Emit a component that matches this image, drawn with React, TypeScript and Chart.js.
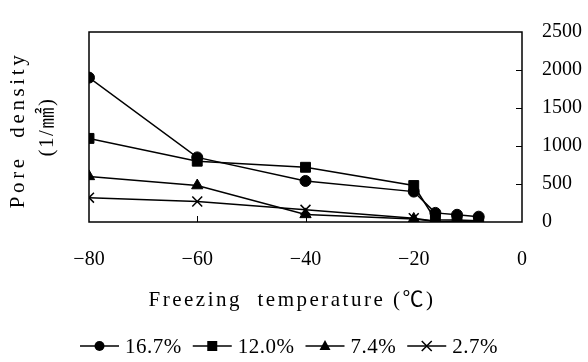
import React, { useEffect, useRef } from "react";
import { Chart, registerables } from "chart.js";

Chart.register(...registerables);

const temperatures = [-80, -60, -40, -20, -16, -12, -8];
const seriesLabels = ["16.7%", "12.0%", "7.4%", "2.7%"];
const series167 = [1900, 850, 540, 400, 120, 95, 70];
const series120 = [1100, 800, 720, 480, 30, 25, 15];
const series74 = [600, 480, 100, 40, 10, 8, 5];
const series27 = [320, 270, 160, 50, 10, 5, 5];
const xTicks = [-80, -60, -40, -20, 0];
const yTicks = [0, 500, 1000, 1500, 2000, 2500];
const xTitle = "Freezing  temperature (℃)";
const yTitleLine1 = "Pore  density";
const yTitleLine2 = "(1/㎟)";

const pointStyles = ["circle", "rect", "triangle", "crossRot"];
const pointRadii = [5.5, 7, 6.5, 7];

const SERIF = '"Liberation Serif", "Noto Sans CJK SC", serif';

function drawMarker(ctx: CanvasRenderingContext2D, style: string, x: number, y: number) {
  ctx.beginPath();
  if (style === "circle") {
    ctx.arc(x, y, 5, 0, Math.PI * 2);
    ctx.fill();
  } else if (style === "rect") {
    ctx.rect(x - 5, y - 5, 10, 10);
    ctx.fill();
  } else if (style === "triangle") {
    ctx.moveTo(x, y - 6);
    ctx.lineTo(x + 5.5, y + 4);
    ctx.lineTo(x - 5.5, y + 4);
    ctx.closePath();
    ctx.fill();
  } else {
    ctx.moveTo(x - 5, y - 5);
    ctx.lineTo(x + 5, y + 5);
    ctx.moveTo(x + 5, y - 5);
    ctx.lineTo(x - 5, y + 5);
    ctx.stroke();
  }
}

const decorPlugin = {
  id: "decor",
  afterDraw(chart: any) {
    const { ctx, chartArea: a, scales } = chart;
    ctx.save();
    ctx.strokeStyle = "#000";
    ctx.fillStyle = "#000";
    ctx.lineWidth = 1.5;
    ctx.strokeRect(a.left, a.top, a.right - a.left, a.bottom - a.top);
    ctx.lineWidth = 1;
    for (const v of xTicks) {
      const px = Math.round(scales.x.getPixelForValue(v)) + 0.5;
      if (px > a.left + 2 && px < a.right - 2) {
        ctx.beginPath();
        ctx.moveTo(px, a.bottom);
        ctx.lineTo(px, a.bottom - 6);
        ctx.stroke();
      }
    }
    for (const v of yTicks) {
      const py = Math.round(scales.y.getPixelForValue(v)) + 0.5;
      if (py > a.top + 2 && py < a.bottom - 2) {
        ctx.beginPath();
        ctx.moveTo(a.right, py);
        ctx.lineTo(a.right - 6, py);
        ctx.stroke();
      }
    }

    // axis titles
    ctx.textAlign = "center";
    ctx.textBaseline = "middle";
    ctx.font = `21px ${SERIF}`;
    (ctx as any).letterSpacing = "2.5px";
    ctx.fillText(xTitle, 292, 300);

    const midY = (a.top + a.bottom) / 2;
    ctx.save();
    ctx.translate(18, midY + 3);
    ctx.rotate(-Math.PI / 2);
    (ctx as any).letterSpacing = "3.6px";
    ctx.fillText(yTitleLine1, 0, 0);
    ctx.restore();
    ctx.save();
    ctx.translate(47, midY);
    ctx.rotate(-Math.PI / 2);
    (ctx as any).letterSpacing = "1.5px";
    ctx.fillText(yTitleLine2, 0, 0);
    ctx.restore();

    // legend
    (ctx as any).letterSpacing = "0.5px";
    ctx.font = `21px ${SERIF}`;
    ctx.textAlign = "left";
    const lineLen = 39;
    const gapText = 6;
    const gapItem = 11;
    const widths = seriesLabels.map((l) => ctx.measureText(l).width);
    const total =
      widths.reduce((s, w) => s + w + lineLen + gapText, 0) + gapItem * (seriesLabels.length - 1);
    let x = 289 - total / 2;
    const ly = 346;
    seriesLabels.forEach((label, i) => {
      ctx.lineWidth = 1.5;
      ctx.beginPath();
      ctx.moveTo(x, ly);
      ctx.lineTo(x + lineLen, ly);
      ctx.stroke();
      drawMarker(ctx, pointStyles[i], x + lineLen / 2, ly);
      ctx.fillText(label, x + lineLen + gapText, ly + 1);
      x += lineLen + gapText + widths[i] + gapItem;
    });
    ctx.restore();
  },
};

export default function App() {
  const canvasRef = useRef<HTMLCanvasElement | null>(null);

  useEffect(() => {
    document.body.style.margin = "0";
    const canvas = canvasRef.current;
    if (!canvas) return;
    const allSeries = [series167, series120, series74, series27];
    const chart = new Chart(canvas, {
      type: "line",
      data: {
        datasets: allSeries.map((vals, i) => ({
          label: seriesLabels[i],
          data: temperatures.map((t, j) => ({ x: t, y: vals[j] })),
          borderColor: "#000",
          backgroundColor: "#000",
          borderWidth: 1.5,
          pointStyle: pointStyles[i] as any,
          pointRadius: pointRadii[i],
          pointBorderWidth: i === 3 ? 1.5 : 1,
          pointBackgroundColor: "#000",
          pointBorderColor: "#000",
          tension: 0,
          fill: false,
        })),
      },
      options: {
        animation: false,
        responsive: false,
        maintainAspectRatio: false,
        layout: { padding: { left: 89, top: 13, right: 0, bottom: 0 } },
        plugins: {
          legend: { display: false },
          tooltip: { enabled: false },
        },
        scales: {
          x: {
            type: "linear",
            min: -80,
            max: 0,
            position: "bottom",
            afterBuildTicks: (s: any) => {
              s.ticks = xTicks.map((v) => ({ value: v }));
            },
            afterFit: (s: any) => {
              s.height = 140;
            },
            ticks: {
              padding: 26,
              autoSkip: false,
              maxRotation: 0,
              color: "#000",
              font: { family: SERIF, size: 20 },
              callback: (v: any) => String(v).replace("-", "−"),
            },
            grid: { display: false, drawTicks: false },
            border: { display: false },
          },
          y: {
            type: "linear",
            min: 0,
            max: 2500,
            position: "right",
            afterBuildTicks: (s: any) => {
              s.ticks = yTicks.map((v) => ({ value: v }));
            },
            afterFit: (s: any) => {
              s.width = 66;
            },
            ticks: {
              padding: 20,
              color: "#000",
              font: { family: SERIF, size: 20 },
              callback: (v: any) => String(v),
            },
            grid: { display: false, drawTicks: false },
            border: { display: false },
          },
        },
      },
      plugins: [decorPlugin],
    });
    return () => chart.destroy();
  }, []);

  return (
    <div style={{ width: 588, height: 362 }}>
      <canvas ref={canvasRef} width={588} height={362} />
    </div>
  );
}
